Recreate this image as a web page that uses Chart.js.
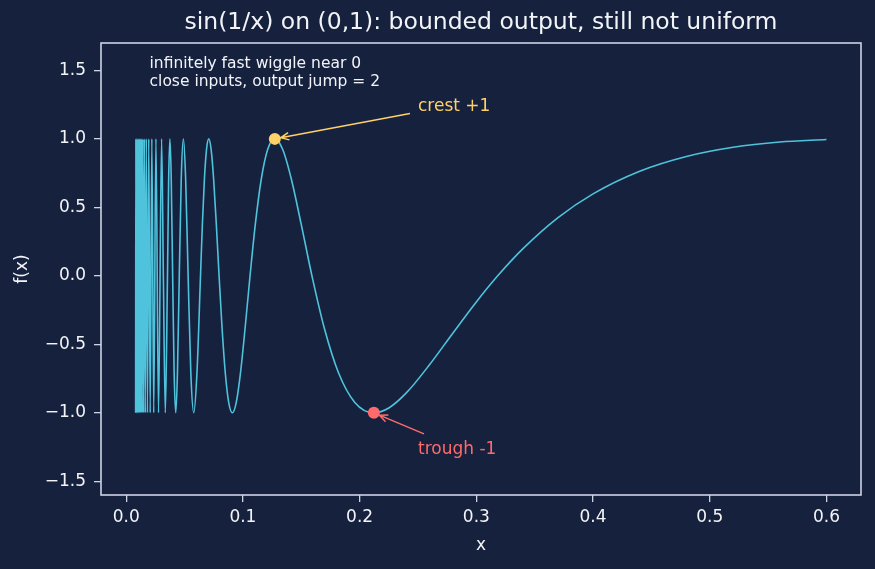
<!DOCTYPE html>
<html>
<head>
<meta charset="utf-8">
<script src="https://cdn.jsdelivr.net/npm/chart.js@4.4.1/dist/chart.umd.min.js"></script>
<style>
  html, body { margin: 0; padding: 0; background: #16213e; }
  #wrap { width: 875px; height: 569px; }
</style>
</head>
<body>
<div id="wrap"><canvas id="chart" width="875" height="569"></canvas></div>
<script>
// curve samples: x values and f(x)
const curveX = [
  0.00806, 0.00828, 0.00850, 0.00873, 0.00897, 0.00923, 0.00950, 0.00979,
  0.01011, 0.01044, 0.01079, 0.01117, 0.01157, 0.01201, 0.01248, 0.01299,
  0.01355, 0.01415, 0.01480, 0.01552, 0.01632, 0.01720, 0.01819, 0.01929,
  0.02054, 0.02196, 0.02358, 0.02546, 0.02768,
  0.030315, 0.031831, 0.033506, 0.035368, 0.036378, 0.037448, 0.038583, 0.039789,
  0.041072, 0.042441, 0.043905, 0.045473, 0.047157, 0.048971, 0.050930, 0.053052,
  0.055358, 0.057875, 0.060631, 0.063662, 0.065294, 0.067013, 0.068824, 0.070736,
  0.072757, 0.074896, 0.077166, 0.079577, 0.082145, 0.084883, 0.087810, 0.090946,
  0.094314, 0.097942, 0.101859, 0.106103, 0.110716, 0.115749, 0.121261, 0.127324,
  0.134025, 0.141471, 0.149793, 0.159155, 0.169765, 0.181891, 0.195883, 0.212207,
  0.225, 0.24, 0.26, 0.28, 0.30, 0.318310, 0.34, 0.37, 0.40, 0.44, 0.48, 0.52, 0.56, 0.60
];
const curveY = [
  -1, 1, -1, 1, -1, 1, -1, 1,
  -1, 1, -1, 1, -1, 1, -1, 1,
  -1, 1, -1, 1, -1, 1, -1, 1,
  -1, 1, -1, 1, -1,
  1, 0, -1, 0, 0.7071, 1, 0.7071, 0,
  -0.7071, -1, -0.7071, 0, 0.7071, 1, 0.7071, 0,
  -0.7071, -1, -0.7071, 0, 0.3827, 0.7071, 0.9239, 1,
  0.9239, 0.7071, 0.3827, 0, -0.3827, -0.7071, -0.9239, -1,
  -0.9239, -0.7071, -0.3827, 0, 0.3827, 0.7071, 0.9239, 1,
  0.9239, 0.7071, 0.3827, 0, -0.3827, -0.7071, -0.9239, -1,
  -0.9644, -0.8548, -0.6477, -0.4167, -0.1906, 0, 0.1983, 0.4250, 0.5985, 0.7637, 0.8714, 0.9387, 0.9772, 0.9954
];

// highlighted extremes
const crestX = [0.127324];
const crestY = [1];
const troughX = [0.212207];
const troughY = [-1];

// tick labels
const xTicks = [0.0, 0.1, 0.2, 0.3, 0.4, 0.5, 0.6];
const yTicks = [-1.5, -1.0, -0.5, 0.0, 0.5, 1.0, 1.5];

const BG = "#16213e";
const FG = "#f2f4f8";
const SPINE = "#cdd4e4";
const LINE = "#4fc3dc";
const YELLOW = "#ffd166";
const RED = "#ff6b6b";
const FONT = "'DejaVu Sans', sans-serif";

function fmt(v) {
  return Number(v).toFixed(1).replace("-", "\u2212");
}

function arrow(ctx, x0, y0, x1, y1, color) {
  const a = Math.atan2(y1 - y0, x1 - x0);
  const shrink = 6;
  const ex = x1 - Math.cos(a) * shrink;
  const ey = y1 - Math.sin(a) * shrink;
  ctx.save();
  ctx.strokeStyle = color;
  ctx.lineWidth = 1.5;
  ctx.beginPath();
  ctx.moveTo(x0, y0);
  ctx.lineTo(ex, ey);
  const h = 9, w = 0.42;
  ctx.moveTo(ex - Math.cos(a - w) * h, ey - Math.sin(a - w) * h);
  ctx.lineTo(ex, ey);
  ctx.lineTo(ex - Math.cos(a + w) * h, ey - Math.sin(a + w) * h);
  ctx.stroke();
  ctx.restore();
}

const decor = {
  id: "decor",
  beforeDraw(chart) {
    const ctx = chart.ctx;
    ctx.save();
    ctx.fillStyle = BG;
    ctx.fillRect(0, 0, chart.width, chart.height);
    ctx.restore();
  },
  afterDatasetsDraw(chart) {
    const ctx = chart.ctx;
    const xs = chart.scales.x, ys = chart.scales.y;

    // notes top-left
    ctx.save();
    ctx.fillStyle = FG;
    ctx.font = "15.5px " + FONT;
    ctx.textAlign = "left";
    ctx.textBaseline = "top";
    const nx = xs.getPixelForValue(0.02), ny = ys.getPixelForValue(1.6);
    ctx.fillText("infinitely fast wiggle near 0", nx, ny);
    ctx.fillText("close inputs, output jump = 2", nx, ny + 18);

    // crest label + arrow
    ctx.font = "17px " + FONT;
    ctx.textBaseline = "alphabetic";
    let tx = xs.getPixelForValue(0.25), ty = ys.getPixelForValue(1.2);
    ctx.fillStyle = YELLOW;
    ctx.fillText("crest +1", tx, ty);
    arrow(ctx, tx - 8, ty + 2, xs.getPixelForValue(crestX[0]), ys.getPixelForValue(crestY[0]), YELLOW);

    // trough label + arrow
    tx = xs.getPixelForValue(0.25); ty = ys.getPixelForValue(-1.3);
    ctx.fillStyle = RED;
    ctx.fillText("trough -1", tx, ty);
    arrow(ctx, tx + 6, ty - 20, xs.getPixelForValue(troughX[0]), ys.getPixelForValue(troughY[0]), RED);
    ctx.restore();
  },
  afterDraw(chart) {
    const ctx = chart.ctx;
    const a = chart.chartArea;
    ctx.save();
    ctx.strokeStyle = SPINE;
    ctx.lineWidth = 1.6;
    ctx.strokeRect(a.left, a.top, a.right - a.left, a.bottom - a.top);
    ctx.fillStyle = FG;
    ctx.font = "23.5px " + FONT;
    ctx.textAlign = "center";
    ctx.textBaseline = "middle";
    ctx.fillText("sin(1/x) on (0,1): bounded output, still not uniform", (a.left + a.right) / 2, 23);
    ctx.restore();
  }
};

const curve = curveX.map((x, i) => ({ x: x, y: curveY[i] }));

new Chart(document.getElementById("chart"), {
  type: "scatter",
  data: {
    datasets: [
      {
        data: curve,
        showLine: true,
        borderColor: LINE,
        borderWidth: 1.6,
        pointRadius: 0,
        cubicInterpolationMode: "monotone",
        fill: false,
        order: 2
      },
      {
        data: crestX.map((x, i) => ({ x: x, y: crestY[i] })),
        pointRadius: 6,
        backgroundColor: YELLOW,
        borderWidth: 0,
        order: 1
      },
      {
        data: troughX.map((x, i) => ({ x: x, y: troughY[i] })),
        pointRadius: 6,
        backgroundColor: RED,
        borderWidth: 0,
        order: 1
      }
    ]
  },
  options: {
    responsive: false,
    animation: false,
    devicePixelRatio: 1,
    layout: { padding: { top: 43, right: 14, left: 0, bottom: 0 } },
    plugins: { legend: { display: false }, tooltip: { enabled: false } },
    scales: {
      x: {
        type: "linear",
        min: -0.0216,
        max: 0.6296,
        afterBuildTicks: (axis) => { axis.ticks = xTicks.map(v => ({ value: v })); },
        afterFit: (s) => { s.height = 74; },
        grid: { drawOnChartArea: false, drawTicks: true, tickLength: 7, color: SPINE, lineWidth: 1.3 },
        border: { display: false },
        ticks: { color: FG, font: { family: FONT, size: 17 }, padding: 5, maxRotation: 0, callback: (v) => fmt(v) },
        title: { display: true, text: "x", color: FG, font: { family: FONT, size: 17 }, padding: { top: 0, bottom: 13 } }
      },
      y: {
        type: "linear",
        min: -1.6,
        max: 1.7,
        afterBuildTicks: (axis) => { axis.ticks = yTicks.map(v => ({ value: v })); },
        afterFit: (s) => { s.width = 101; },
        grid: { drawOnChartArea: false, drawTicks: true, tickLength: 7, color: SPINE, lineWidth: 1.3 },
        border: { display: false },
        ticks: { color: FG, font: { family: FONT, size: 17 }, padding: 8, callback: (v) => fmt(v) },
        title: { display: true, text: "f(x)", color: FG, font: { family: FONT, size: 17 }, padding: { top: 12, bottom: 0 } }
      }
    }
  },
  plugins: [decor]
});
</script>
</body>
</html>
